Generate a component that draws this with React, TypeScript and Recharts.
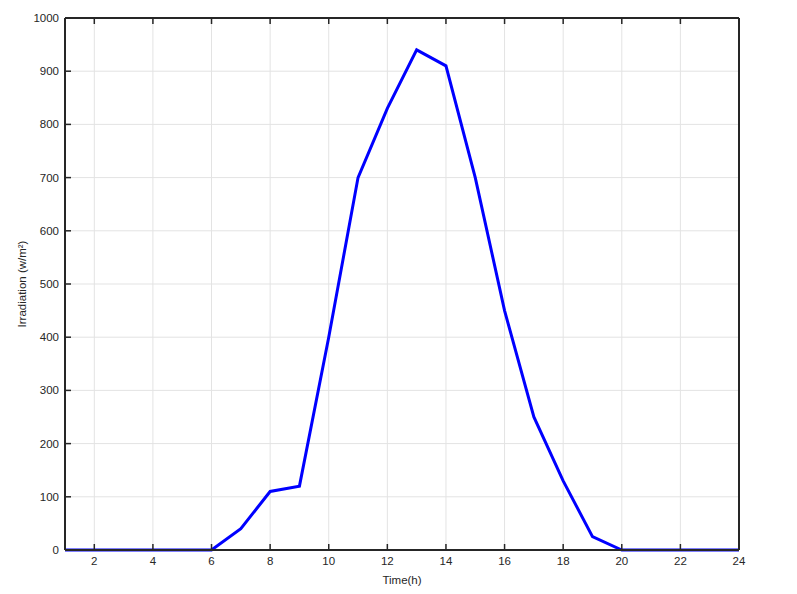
import React from 'react';
import { LineChart, Line, XAxis, YAxis, CartesianGrid, Label } from 'recharts';

const hours = [1, 2, 3, 4, 5, 6, 7, 8, 9, 10, 11, 12, 13, 14, 15, 16, 17, 18, 19, 20, 21, 22, 23, 24];
const irradiation = [0, 0, 0, 0, 0, 0, 40, 110, 120, 400, 700, 830, 940, 910, 700, 450, 250, 130, 25, 0, 0, 0, 0, 0];
const xTicks = [2, 4, 6, 8, 10, 12, 14, 16, 18, 20, 22, 24];
const yTicks = [0, 100, 200, 300, 400, 500, 600, 700, 800, 900, 1000];

const data = hours.map((h, i) => ({ hour: h, value: irradiation[i] }));

const INK = '#262626';
const FONT = 'Arial, "Liberation Sans", Helvetica, sans-serif';
const TICK_LEN = 6;

// inward tick + label below the bottom axis
const BottomTick = (props: any) => {
  const { x, y, payload } = props;
  return (
    <g>
      <line x1={x} y1={y} x2={x} y2={y - TICK_LEN} stroke={INK} strokeWidth={1.5} />
      <text x={x} y={y + 7} dy="0.71em" textAnchor="middle" fill={INK} fontSize={11.5} fontFamily={FONT}>
        {payload.value}
      </text>
    </g>
  );
};

const LeftTick = (props: any) => {
  const { x, y, payload } = props;
  return (
    <g>
      <line x1={x} y1={y} x2={x + TICK_LEN} y2={y} stroke={INK} strokeWidth={1.5} />
      <text x={x - 6} y={y} dy="0.355em" textAnchor="end" fill={INK} fontSize={11.5} fontFamily={FONT}>
        {payload.value}
      </text>
    </g>
  );
};

const TopTick = (props: any) => {
  const { x, y } = props;
  return <line x1={x} y1={y} x2={x} y2={y + TICK_LEN} stroke={INK} strokeWidth={1.5} />;
};

const RightTick = (props: any) => {
  const { x, y } = props;
  return <line x1={x} y1={y} x2={x - TICK_LEN} y2={y} stroke={INK} strokeWidth={1.5} />;
};

export default function App() {
  return (
    <div style={{ position: 'absolute', left: 0, top: 0, width: 797, height: 594, background: '#fff', fontFamily: FONT }}>
      <LineChart width={797} height={594} data={data} margin={{ top: 18, right: 58, bottom: 14, left: 15 }}>
        <CartesianGrid stroke="#e3e3e3" strokeWidth={1} />
        <XAxis
          dataKey="hour"
          type="number"
          domain={[1, 24]}
          ticks={xTicks}
          height={30}
          tickSize={0}
          tickMargin={0}
          axisLine={{ stroke: INK, strokeWidth: 2 }}
          tickLine={false}
          tick={<BottomTick />}
        />
        <XAxis
          xAxisId="top"
          orientation="top"
          dataKey="hour"
          type="number"
          domain={[1, 24]}
          ticks={xTicks}
          mirror
          tickSize={0}
          tickMargin={0}
          axisLine={{ stroke: INK, strokeWidth: 2 }}
          tickLine={false}
          tick={<TopTick />}
        />
        <YAxis
          type="number"
          domain={[0, 1000]}
          ticks={yTicks}
          width={50}
          tickSize={0}
          tickMargin={0}
          axisLine={{ stroke: INK, strokeWidth: 2 }}
          tickLine={false}
          tick={<LeftTick />}
        />
        <YAxis
          yAxisId="right"
          orientation="right"
          type="number"
          domain={[0, 1000]}
          ticks={yTicks}
          mirror
          tickSize={0}
          tickMargin={0}
          axisLine={{ stroke: INK, strokeWidth: 2 }}
          tickLine={false}
          tick={<RightTick />}
        />
        <Line
          type="linear"
          dataKey="value"
          stroke="#0000ff"
          strokeWidth={3}
          dot={false}
          activeDot={false}
          isAnimationActive={false}
        />
      </LineChart>
      <div style={{ position: 'absolute', left: 65, width: 674, top: 574, textAlign: 'center', fontSize: 11.5, color: INK, fontFamily: FONT }}>
        Time(h)
      </div>
      <div
        style={{
          position: 'absolute',
          left: 22,
          top: 284,
          transform: 'translate(-50%, -50%) rotate(-90deg)',
          whiteSpace: 'nowrap',
          fontSize: 11.5,
          color: INK,
          fontFamily: FONT,
        }}
      >
        Irradiation (w/m²)
      </div>
    </div>
  );
}
